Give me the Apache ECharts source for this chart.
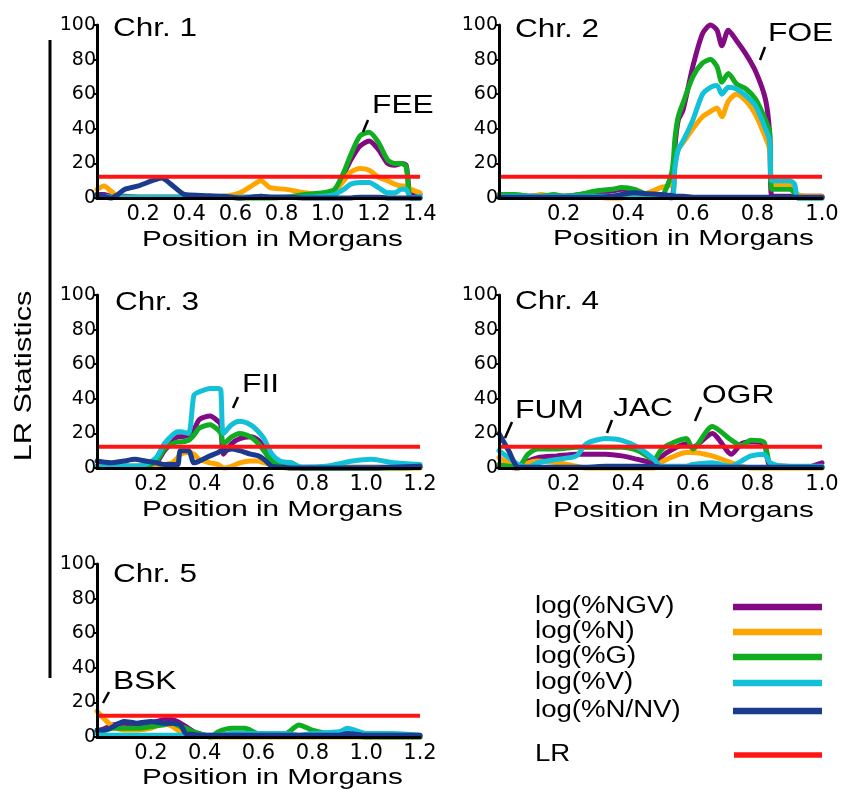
<!DOCTYPE html>
<html><head><meta charset="utf-8">
<script src="https://cdn.jsdelivr.net/npm/echarts@6/dist/echarts.min.js"></script>
<style>html,body{margin:0;padding:0;background:#fff}#c{width:842px;height:790px}</style>
</head><body><div id="c"></div>
<script>
// ---------- data ----------
const seriesNames = ['log(%NGV)', 'log(%N)', 'log(%G)', 'log(%V)', 'log(%N/NV)'];
const seriesColors = ['#820a82', '#ffa500', '#10ad20', '#12c0d8', '#1b3b8f'];
const lrName = 'LR';
const lrColor = '#ff1414';
const lrValue = 12.3;
const chrNames = ['Chr. 1', 'Chr. 2', 'Chr. 3', 'Chr. 4', 'Chr. 5'];
const xMax = [1.4, 1.0, 1.2, 1.0, 1.2];
const xTickLabels = ['0.2', '0.4', '0.6', '0.8', '1.0', '1.2', '1.4'];
const yTickLabels = ['0', '20', '40', '60', '80', '100'];
const xAxisTitle = 'Position in Morgans';
const yAxisTitle = 'LR Statistics';

const chr1X   = [0,0.03,0.06,0.09,0.12,0.18,0.24,0.28,0.32,0.38,0.45,0.55,0.62,0.67,0.71,0.75,0.82,0.9,0.98,1.03,1.07,1.1,1.14,1.18,1.22,1.26,1.29,1.32,1.34,1.36,1.4];
const chr1NGV = [2,2,1,1,1,0.5,0.5,0.5,0.5,0.5,0.5,0.5,0.5,0.5,0.5,0.5,0.5,1,2,4,14,22,30,33,28,20,19,20,19,2,2];
const chr1N   = [5,7,4,1,0.5,0.5,0.5,0.5,0.5,0.5,0.5,1,3,7,10,6,5,3,2,4,10,15,17,16,12,10,8,7,7,5,3];
const chr1G   = [0.5,0.5,0.5,0.5,0.5,0.5,0.5,0.5,0.5,0.5,0.5,0.5,0,0,0,0,0.5,2,3,5,15,25,36,38,32,22,20,20,18,0,0];
const chr1V   = [1,1,0.5,0.5,0.5,0.5,0.5,0.5,0.5,0.5,0.5,0.5,0.5,0.5,1,0.5,0.5,0.5,1,2,5,8,9,9,6,3,3,5,5,0,1];
const chr1NNV = [2,1,0,2,5,7,10,11.5,8,2,1.5,1,0,0.5,1,0.5,0.5,0,0,0,0,0,0.5,0.5,0.5,0,0,0,0,0,0];

const chr2X   = [0,0.05,0.1,0.13,0.17,0.2,0.25,0.3,0.35,0.38,0.42,0.46,0.5,0.535,0.545,0.555,0.57,0.6,0.63,0.655,0.675,0.69,0.71,0.735,0.765,0.795,0.825,0.838,0.845,0.87,0.9,0.915,0.925,0.95,1.0];
const chr2NGV = [1,1,1,1.5,1,1,2,3,4,5,4,2,1,1,30,45,51,76,95,100,97,88,97,91,83,73,57,37,1,1,1,1,1,1,1];
const chr2N   = [1,1,1,2,1,1,1,0.5,0,0,2,3,6,8,20,28,32,40,47,50,52,47,56,60,56,48,35,28,8,8,8,4,2,1,1];
const chr2G   = [2,2,1,1,2,1,2,4,5,6,5,2,1,15,35,47,55,70,78,80,76,67,72,66,63,57,45,38,5,5,5,3,0,0,0];
const chr2V   = [1,1,1,1,1,1,1,1,1,1,1,1,1,0,18,28,33,45,60,64,65,60,64,63,59,53,40,33,10,10,10,8,0,0,0];
const chr2NNV = [0.5,0.5,0.5,0.5,0.5,0.5,0.5,0.5,1,2,3,2.5,2,1.5,1,1,1,0.5,0.5,0.5,0.5,0.5,0.5,0.5,0.5,0.5,0.5,0.5,0.5,0.5,0.5,0.5,0.5,0.5,0.5];

const chr3X   = [0,0.05,0.1,0.14,0.18,0.22,0.25,0.28,0.3,0.31,0.34,0.36,0.38,0.42,0.45,0.46,0.47,0.5,0.53,0.57,0.6,0.62,0.65,0.68,0.72,0.76,0.85,0.95,1.02,1.1,1.2];
const chr3NGV = [1,1,1,1,1,3,10,15,18,18,19,22,28,30,27,25,8,14,17,18,16,12,5,2,1,0.5,0.5,0.5,0.5,0.5,1];
const chr3N   = [0.5,0.5,0.5,0.5,0.5,1,2,3,6,8,9,8,5,3,2,1,0,1,3,4,4,3,2,0.5,0,0,0,0,0,0,0];
const chr3G   = [1,1,1,1,1,4,11,14,15,15,16,19,23,25,22,20,14,18,20,18,14,10,4,3,3,0,0,0,0,0,0.5];
const chr3V   = [1,1,1,1,2,6,14,19,21,21,20,42,44,46,46,45,20,25,27,25,21,17,8,4,3,0.5,1,4,5,3,2];
const chr3NNV = [4,3,4,5,4,3,2,2,2,10,10,3,4,7,9,10,10,11,10,8,7,5,1,0.5,0,0,0,0,0,0.5,1];

const chr4X   = [0,0.03,0.06,0.09,0.12,0.18,0.24,0.27,0.33,0.38,0.43,0.48,0.5,0.52,0.58,0.6,0.66,0.72,0.75,0.78,0.82,0.84,0.88,0.95,1.0];
const chr4NGV = [1,0.5,0,4,6,7,8,8,8,7,5,3,6,9,14,12,20,8,14,15,14,1,1,0.5,3];
const chr4N   = [6,3,0,3,4,3,1,0,0,0,0,0,3,5,9,9,7,3,1,0,0,0,0,0,0];
const chr4G   = [2,1,1,8,11,11,12,12,12,12,10,5,10,13,17,11,24,16,13,16,15,2,1,0.5,0.5];
const chr4V   = [10,6,2,0.5,3,5,7,14,17,16,12,5,1,1,1,2,3,1,4,7,8,3,1,1,1];
const chr4NNV = [20,10,0.5,0.5,0.5,0.5,0.5,0.5,1,1,1,1,0.5,0.5,0.5,0.5,0.5,0.5,0.5,0.5,0.5,0.5,0.5,0.5,0.5];

const chr5X   = [0,0.03,0.06,0.1,0.15,0.2,0.25,0.28,0.31,0.33,0.36,0.4,0.42,0.45,0.5,0.55,0.6,0.7,0.75,0.8,0.9,0.93,1.0,1.1,1.2];
const chr5NGV = [3,5,7,8,7,8,10,10,8,6,3,1,0.5,0.5,0.5,0.5,0.5,0.5,0.5,0.5,0.5,0.5,0.5,0.5,0.5];
const chr5N   = [15,10,6,4,4,5,8,6,3,2,1.5,1,0,0,0,0,0,0,0,0,0,0,0,0,0];
const chr5G   = [3,4,5,5,5,6,7,8,6,5,3,1,0,3,5,5,2,2,7,4,1,1,0,0,0];
const chr5V   = [2,1,1,1,1,1,1,1,1,1,1,1,1,1,2,2,2,2,1,2,3,5,2,2,1];
const chr5NNV = [4,4,6,9,8,9,8,8,7,2,1.5,1,1,1,1,1,1,1,1,1,1,2,1,1,1];

const chrData = [
  [chr1X, [chr1NGV, chr1N, chr1G, chr1V, chr1NNV]],
  [chr2X, [chr2NGV, chr2N, chr2G, chr2V, chr2NNV]],
  [chr3X, [chr3NGV, chr3N, chr3G, chr3V, chr3NNV]],
  [chr4X, [chr4NGV, chr4N, chr4G, chr4V, chr4NNV]],
  [chr5X, [chr5NGV, chr5N, chr5G, chr5V, chr5NNV]]
];

const peakLabels = ['FEE', 'FOE', 'FII', 'FUM', 'JAC', 'OGR', 'BSK'];

// ---------- layout ----------
const gridPos = [
  {left: 97, top: 25}, {left: 499, top: 25},
  {left: 97, top: 295}, {left: 499, top: 295},
  {left: 97, top: 564}
];
const GW = 323, GH = 173;
const FONT = '"Liberation Sans", Arial, Helvetica, sans-serif';
const TICKFONT = '"DejaVu Sans", sans-serif';

const grids = [], xAxes = [], yAxes = [], series = [], graphics = [];

function txt(text, x, y, size, sx, extra) {
  return Object.assign({
    type: 'text', x: x, y: y, scaleX: sx, z: 50,
    style: {text: text, fontSize: size, fontFamily: FONT, fill: '#000', align: 'left', verticalAlign: 'middle'}
  }, extra || {});
}
function seg(x1, y1, x2, y2, w, color) {
  return {type: 'line', z: 50, shape: {x1, y1, x2, y2}, style: {stroke: color || '#000', lineWidth: w}};
}

chrData.forEach(function (cd, i) {
  const g = gridPos[i];
  grids.push({left: g.left, top: g.top, width: GW, height: GH, containLabel: false});
  xAxes.push({
    type: 'value', gridIndex: i, min: 0, max: xMax[i], interval: 0.2, z: 6,
    axisLine: {show: true, onZero: false, lineStyle: {color: '#000', width: 3}},
    axisTick: {show: false}, splitLine: {show: false},
    axisLabel: {
      color: '#000', fontSize: 21, fontFamily: TICKFONT, margin: 6,
      formatter: function (v) { const k = Math.round(v / 0.2) - 1; return k >= 0 ? xTickLabels[k] : ''; }
    }
  });
  yAxes.push({
    type: 'value', gridIndex: i, min: 0, max: 100, interval: 20, z: 6,
    axisLine: {show: true, lineStyle: {color: '#000', width: 3}},
    axisTick: {show: true, length: 3, lineStyle: {color: '#000', width: 2}},
    splitLine: {show: false},
    axisLabel: {
      color: '#000', fontSize: 19, fontFamily: TICKFONT, margin: 1,
      formatter: function (v) { return yTickLabels[Math.round(v / 20)]; }
    }
  });
  const xs = cd[0];
  cd[1].forEach(function (vals, s) {
    series.push({
      type: 'line', name: seriesNames[s], xAxisIndex: i, yAxisIndex: i,
      data: xs.map(function (x, k) { return [x, vals[k]]; }),
      showSymbol: false, symbol: 'none', smooth: 0.25, clip: false,
      lineStyle: {color: seriesColors[s], width: 5, join: 'round', cap: 'round'},
      itemStyle: {color: seriesColors[s]}, z: 2, silent: true
    });
  });
  series.push({
    type: 'line', name: lrName, xAxisIndex: i, yAxisIndex: i,
    data: [[0, lrValue], [xMax[i], lrValue]], showSymbol: false, symbol: 'none',
    lineStyle: {color: lrColor, width: 4}, itemStyle: {color: lrColor}, z: 3, silent: true
  });
});

// titles
const titlePos = [[113, 29], [515, 30], [115, 303], [515, 302], [113, 575]];
chrNames.forEach(function (t, i) { graphics.push(txt(t, titlePos[i][0], titlePos[i][1], 25, 1.26)); });
// x axis titles
const xtPos = [[142, 240], [553, 239], [142, 510], [553, 511], [142, 778]];
xtPos.forEach(function (p) { graphics.push(txt(xAxisTitle, p[0], p[1], 22, 1.35)); });
// y axis title + bar
graphics.push(txt(yAxisTitle, 24, 376, 24, 1.28, {rotation: Math.PI / 2, style: {text: yAxisTitle, fontSize: 24, fontFamily: FONT, fill: '#000', align: 'center', verticalAlign: 'middle'}}));
graphics.push(seg(50, 40, 50, 678, 3));
// peak labels + leaders
const peakPos = [[372, 106], [768, 34], [242, 385], [515, 411], [613, 409], [702, 396], [113, 682]];
const leaderPos = [[363,132,368,120],[760,60,765,47],[233,408,238,397],[505,438,512,422],[607,433,612,420],[695,421,701,407],[103,703,109,692]];
peakLabels.forEach(function (t, i) {
  graphics.push(txt(t, peakPos[i][0], peakPos[i][1], 25, 1.27));
  const l = leaderPos[i];
  graphics.push(seg(l[0], l[1], l[2], l[3], 2.5));
});
// legend
const legY = [607, 632, 657, 683, 711];
seriesNames.forEach(function (n, s) {
  graphics.push(txt(n, 535, legY[s], 23, 1.2));
  graphics.push(seg(733, legY[s], 822, legY[s], 6.5, seriesColors[s]));
});
graphics.push(txt(lrName, 535, 755, 23, 1.2));
graphics.push(seg(734, 755, 822, 755, 5.5, lrColor));

const chart = echarts.init(document.getElementById('c'), null, {renderer: 'canvas'});
chart.setOption({
  backgroundColor: '#fff',
  animation: false,
  grid: grids, xAxis: xAxes, yAxis: yAxes, series: series,
  graphic: graphics
});
</script></body></html>
